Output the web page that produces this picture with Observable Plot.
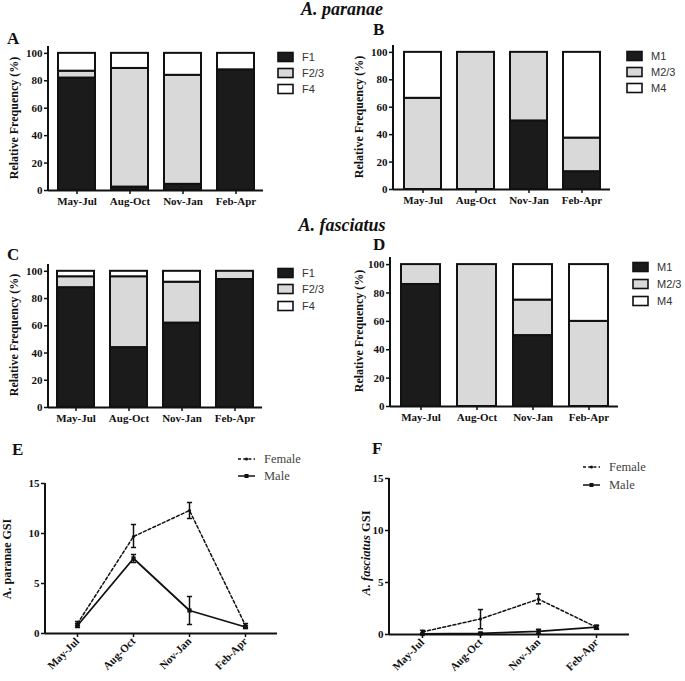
<!DOCTYPE html>
<html><head><meta charset="utf-8">
<script src="https://cdn.jsdelivr.net/npm/d3@7"></script>
<script src="https://cdn.jsdelivr.net/npm/@observablehq/plot@0.6"></script>
<style>
body{margin:0;background:#fff;}
#root{position:relative;width:685px;height:681px;overflow:hidden;background:#fff;}
#root > svg{position:absolute;margin:0;overflow:visible;}
#root [aria-label$="axis tick"]{stroke-width:1.5px;}
</style></head><body><div id="root"></div>
<script>
// ---------- data ----------
const periods = ["May-Jul", "Aug-Oct", "Nov-Jan", "Feb-Apr"];
const femaleStages = ["F1", "F2/3", "F4"];
const maleStages = ["M1", "M2/3", "M4"];
const stageColors = ["#1b1b1b", "#d9d9d9", "#ffffff"];
const freqTicks = [0, 20, 40, 60, 80, 100];
const gsiTicks = [0, 5, 10, 15];

// A. paranae, females (A)
const paranaeF1 = [82, 2.5, 4.5, 88];
const paranaeF23 = [5, 86.5, 79.5, 0];
const paranaeF4 = [13, 11, 16, 12];
// A. paranae, males (B)
const paranaeM1 = [0, 0, 50, 13];
const paranaeM23 = [66.5, 100, 50, 24.5];
const paranaeM4 = [33.5, 0, 0, 62.5];
// A. fasciatus, females (C)
const fasciatusF1 = [88, 44, 62, 94];
const fasciatusF23 = [8, 52, 30, 6];
const fasciatusF4 = [4, 4, 8, 0];
// A. fasciatus, males (D)
const fasciatusM1 = [86, 0, 50, 0];
const fasciatusM23 = [14, 100, 25, 60];
const fasciatusM4 = [0, 0, 25, 40];

// GSI (E) A. paranae
const paranaeFemaleGSI = [1.0, 9.7, 12.3, 0.8];
const paranaeFemaleLo = [0.8, 8.6, 11.5, 0.6];
const paranaeFemaleHi = [1.2, 10.9, 13.1, 1.0];
const paranaeMaleGSI = [0.8, 7.5, 2.3, 0.65];
const paranaeMaleLo = [0.6, 7.1, 0.9, 0.5];
const paranaeMaleHi = [1.0, 7.9, 3.7, 0.8];
// GSI (F) A. fasciatus
const fasciatusFemaleGSI = [0.25, 1.5, 3.4, 0.7];
const fasciatusFemaleLo = [0.1, 0.55, 2.95, 0.5];
const fasciatusFemaleHi = [0.4, 2.4, 3.9, 0.9];
const fasciatusMaleGSI = [0.05, 0.1, 0.3, 0.7];
const fasciatusMaleLo = [0.0, 0.0, 0.1, 0.55];
const fasciatusMaleHi = [0.1, 0.2, 0.5, 0.85];

const sexes = ["Female", "Male"];

// ---------- helpers ----------
const root = document.getElementById("root");
const SERIF = "'Liberation Serif', 'Times New Roman', serif";
const SANS = "'Liberation Sans', Arial, sans-serif";

const axisLineY = (index, scales, values, dims) =>
  d3.create("svg:line")
    .attr("x1", dims.marginLeft).attr("x2", dims.marginLeft)
    .attr("y1", dims.marginTop).attr("y2", dims.height - dims.marginBottom)
    .attr("stroke", "#111").attr("stroke-width", 2).node();

const capSymbol = {
  draw(ctx, size) {
    const w = Math.sqrt(size / Math.PI);
    ctx.moveTo(-w, 0); ctx.lineTo(w, 0);
  }
};

function place(svg, left, top) {
  svg.style.left = left + "px";
  svg.style.top = top + "px";
  root.appendChild(svg);
}

function barPanel(stages, cols, box) {
  const data = periods.flatMap((p, i) => stages.map((s, j) => ({period: p, stage: s, value: cols[j][i]})));
  const svg = Plot.plot({
    width: box.width, height: box.height,
    marginLeft: box.ml, marginRight: box.mr, marginTop: box.mt, marginBottom: box.mb,
    style: {fontFamily: SERIF, fontSize: "11px", fontWeight: "bold", color: "#111", background: "transparent"},
    x: {domain: periods, paddingInner: 0.31, paddingOuter: 0.17, label: null, tickSize: 4, tickPadding: 3},
    y: {domain: [0, 105], ticks: freqTicks, label: null, tickSize: 4, tickPadding: 2},
    color: {domain: stages, range: stageColors},
    marks: [
      Plot.barY(data, {x: "period", y: "value", fill: "stage", stroke: "#111", strokeWidth: 2, order: stages}),
      Plot.ruleY([0], {stroke: "#111", strokeWidth: 2}),
      axisLineY
    ]
  });
  place(svg, box.left, box.top);
}

function gsiPanel(series, box) {
  const rows = series.flatMap(s => periods.map((p, i) => ({sex: s.sex, period: p, value: s.v[i], lo: s.lo[i], hi: s.hi[i]})));
  const fem = rows.filter(d => d.sex === "Female");
  const mal = rows.filter(d => d.sex === "Male");
  const svg = Plot.plot({
    width: box.width, height: box.height,
    marginLeft: box.ml, marginRight: box.mr, marginTop: box.mt, marginBottom: box.mb,
    style: {fontFamily: SERIF, fontSize: "11px", fontWeight: "bold", color: "#111", background: "transparent"},
    x: {type: "point", domain: periods, padding: 0.55, label: null, tickSize: 4, tickRotate: -45, tickPadding: 2},
    y: {domain: [0, 15], ticks: gsiTicks, label: null, tickSize: 4, tickPadding: 2},
    marks: [
      Plot.line(fem, {x: "period", y: "value", stroke: "#111", strokeWidth: 1.5, strokeDasharray: "3,2.2"}),
      Plot.line(mal, {x: "period", y: "value", stroke: "#111", strokeWidth: 1.8}),
      Plot.ruleX(rows, {x: "period", y1: "lo", y2: "hi", stroke: "#111", strokeWidth: 1.5}),
      Plot.dot(rows, {x: "period", y: "lo", symbol: capSymbol, r: 2.6, stroke: "#111", fill: "none", strokeWidth: 1.5}),
      Plot.dot(rows, {x: "period", y: "hi", symbol: capSymbol, r: 2.6, stroke: "#111", fill: "none", strokeWidth: 1.5}),
      Plot.dot(fem, {x: "period", y: "value", r: 1.6, fill: "#111", stroke: "none"}),
      Plot.dot(mal, {x: "period", y: "value", symbol: "square", r: 2.4, fill: "#111", stroke: "none"}),
      Plot.ruleY([0], {stroke: "#111", strokeWidth: 2}),
      axisLineY
    ]
  });
  place(svg, box.left, box.top);
}

// ---------- panels ----------
barPanel(femaleStages, [paranaeF1, paranaeF23, paranaeF4],
  {left: 0, top: 30, width: 270, height: 185, ml: 48, mr: 7, mt: 16, mb: 25});
barPanel(maleStages, [paranaeM1, paranaeM23, paranaeM4],
  {left: 340, top: 30, width: 280, height: 184, ml: 53, mr: 10, mt: 15, mb: 25});
barPanel(femaleStages, [fasciatusF1, fasciatusF23, fasciatusF4],
  {left: 0, top: 250, width: 270, height: 182, ml: 48, mr: 8, mt: 14, mb: 25});
barPanel(maleStages, [fasciatusM1, fasciatusM23, fasciatusM4],
  {left: 340, top: 240, width: 285, height: 191, ml: 50, mr: 7, mt: 17, mb: 25});

gsiPanel([
  {sex: "Female", v: paranaeFemaleGSI, lo: paranaeFemaleLo, hi: paranaeFemaleHi},
  {sex: "Male", v: paranaeMaleGSI, lo: paranaeMaleLo, hi: paranaeMaleHi}
], {left: 0, top: 470, width: 290, height: 211, ml: 45, mr: 13, mt: 13, mb: 48});
gsiPanel([
  {sex: "Female", v: fasciatusFemaleGSI, lo: fasciatusFemaleLo, hi: fasciatusFemaleHi},
  {sex: "Male", v: fasciatusMaleGSI, lo: fasciatusMaleLo, hi: fasciatusMaleHi}
], {left: 340, top: 465, width: 300, height: 216, ml: 49, mr: 11, mt: 13, mb: 47});

// ---------- overlay text: titles, panel letters, axis titles, legends ----------
const ov = d3.create("svg").attr("width", 685).attr("height", 681)
  .style("left", "0px").style("top", "0px").style("position", "absolute");

function txt(x, y, s, o = {}) {
  const t = ov.append("text").attr("x", x).attr("y", y)
    .attr("font-family", o.family || SERIF).attr("font-size", o.size || 12)
    .attr("font-weight", o.weight || "bold").attr("font-style", o.style || "normal")
    .attr("fill", o.fill || "#111").attr("text-anchor", o.anchor || "start");
  if (o.rotate) t.attr("transform", `rotate(-90 ${x} ${y})`);
  t.text(s);
  return t;
}

// species titles
txt(342, 15, "A. paranae", {size: 18, style: "italic", anchor: "middle"});
txt(342, 231, "A. fasciatus", {size: 18, style: "italic", anchor: "middle"});
// panel letters
const letters = [["A", 7, 44], ["B", 373, 35], ["C", 7, 260], ["D", 373, 250], ["E", 12, 455], ["F", 372, 454]];
for (const [l, x, y] of letters) txt(x, y, l, {size: 17});

// y-axis titles
txt(18, 118, "Relative Frequency (%)", {size: 12, anchor: "middle", rotate: true});
txt(363, 117, "Relative Frequency (%)", {size: 12, anchor: "middle", rotate: true});
txt(18, 335, "Relative Frequency (%)", {size: 12, anchor: "middle", rotate: true});
txt(363, 331, "Relative Frequency (%)", {size: 12, anchor: "middle", rotate: true});
txt(11, 559, "A. paranae GSI", {size: 12, anchor: "middle", rotate: true});
{
  const t = txt(370, 553, "", {size: 12.5, anchor: "middle", rotate: true});
  t.append("tspan").attr("font-style", "italic").text("A. fasciatus");
  t.append("tspan").text(" GSI");
}

// bar legends
function barLegend(stages, x, ys) {
  stages.forEach((s, i) => {
    ov.append("rect").attr("x", x).attr("y", ys[i] - 4.5).attr("width", 15).attr("height", 9)
      .attr("fill", stageColors[i]).attr("stroke", "#111").attr("stroke-width", 1.6);
    txt(x + 24, ys[i] + 4, s, {family: SANS, size: 11, weight: "normal", fill: "#333"});
  });
}
barLegend(femaleStages, 278, [57, 73, 89]);
barLegend(maleStages, 627, [56, 72, 88]);
barLegend(femaleStages, 278, [273, 289, 306]);
barLegend(maleStages, 633, [267, 284, 301]);

// line legends
function lineLegend(x, ys) {
  sexes.forEach((s, i) => {
    const y = ys[i];
    ov.append("line").attr("x1", x).attr("x2", x + 17).attr("y1", y).attr("y2", y)
      .attr("stroke", "#111").attr("stroke-width", 1.5)
      .attr("stroke-dasharray", s === "Female" ? "3,2.2" : null);
    if (s === "Female") ov.append("circle").attr("cx", x + 8.5).attr("cy", y).attr("r", 1.6).attr("fill", "#111");
    else ov.append("rect").attr("x", x + 6.5).attr("y", y - 2).attr("width", 4).attr("height", 4).attr("fill", "#111");
    txt(x + 26, y + 4, s, {size: 12.5, weight: "normal", fill: "#444"});
  });
}
lineLegend(238, [459, 476]);
lineLegend(583, [467, 485]);

root.appendChild(ov.node());
</script></body></html>
